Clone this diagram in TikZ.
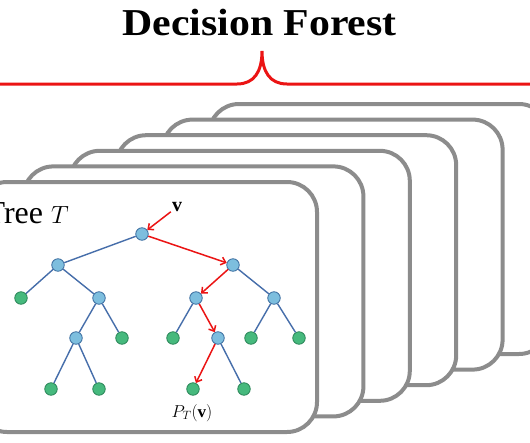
\documentclass[tikz,border=0pt]{standalone}
\usepackage{fontspec}
\setmainfont{Liberation Serif}
\usetikzlibrary{arrows.meta}
\definecolor{cardgray}{RGB}{140,140,140}
\definecolor{bracered}{RGB}{235,20,20}
\definecolor{splitblue}{RGB}{125,190,222}
\definecolor{splitedge}{RGB}{60,110,160}
\definecolor{leafgreen}{RGB}{70,185,125}
\definecolor{leafedge}{RGB}{45,135,90}
\definecolor{branchblue}{RGB}{70,110,170}

\begin{document}
\begin{tikzpicture}[x=1pt,y=-1pt,
  card/.style={draw=cardgray,line width=4pt,rounded corners=30pt,fill=white},
  split/.style={circle,draw=splitedge,fill=splitblue,line width=0.8pt,minimum size=12.5pt,inner sep=0pt},
  leaf/.style={circle,draw=leafedge,fill=leafgreen,line width=0.8pt,minimum size=12.5pt,inner sep=0pt},
  branch/.style={draw=branchblue,line width=1.4pt},
  route/.style={draw=bracered,line width=1.5pt,-{Straight Barb[length=4.5pt,width=8pt]}}]
\useasboundingbox (0,0) rectangle (530,442);
\clip (0,0) rectangle (530,442);
% stack of trees, back to front
\foreach \i in {5,4,...,0}{
  \draw[card] ({317+46.4*\i-340},{182-15.6*\i}) rectangle ++(340,250);
}
% brace and title
\draw[bracered,line width=3pt] (0,84) -- (237,84) .. controls (254,84) and (262,72) .. (262,51)
  .. controls (262,72) and (270,84) .. (287,84) -- (530,84);
\node[font=\bfseries\fontsize{38}{38}\selectfont,anchor=base,inner sep=0pt] (title) at (259.5,35) {\scalebox{1.1}[1]{Decision Forest}};
\node[font=\fontsize{32}{32}\selectfont,anchor=base east,inner sep=0pt] (treename) at (69,223) {Tree $T$};
% tree nodes
\foreach \n/\x/\y/\s in {root/142/234/split,a/58/265/split,b/233/265/split,
  a1/21/298/leaf,a2/99/298/split,b1/196/298/split,b2/274/298/split,
  a21/76/338/split,a22/122/338/leaf,b11/173/338/leaf,b12/218/338/split,b21/251/338/leaf,b22/299/338/leaf,
  a211/51/389/leaf,a212/99/389/leaf,b121/193/389/leaf,b122/244/389/leaf}{
  \node[\s] (\n) at (\x,\y) {};
}
\node[font=\bfseries\fontsize{20}{20}\selectfont,inner sep=1pt] (input) at (177,207) {v};
\node[font=\fontsize{17}{17}\selectfont] (output) at (192,413) {$P_T(\mathbf{v})$};
% branches
\foreach \p/\c in {root/a,a/a1,a/a2,a2/a21,a2/a22,a21/a211,a21/a212,b/b2,b1/b11,b2/b21,b2/b22,b12/b122}{
  \draw[branch] (\p) -- (\c);
}
% path of v
\foreach \p/\c in {input/root,root/b,b/b1,b1/b12,b12/b121}{
  \draw[route] (\p) -- (\c);
}
\end{tikzpicture}
\end{document}
